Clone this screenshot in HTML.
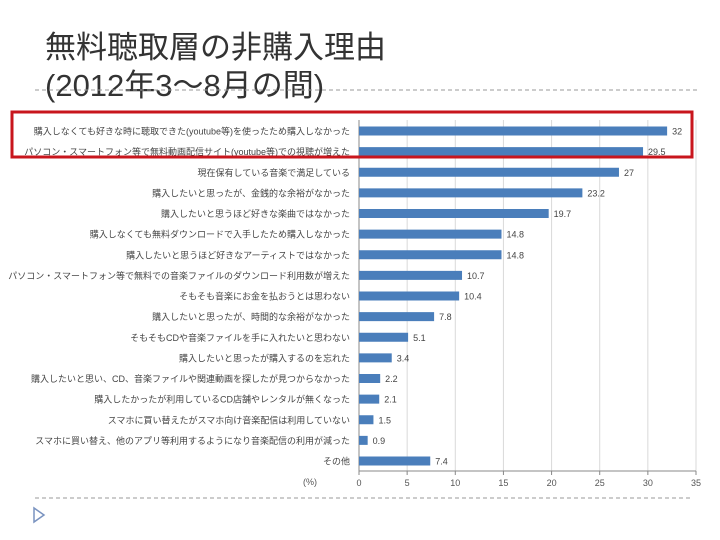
<!DOCTYPE html>
<html><head><meta charset="utf-8">
<style>
body{margin:0;background:#fff;width:720px;height:540px;overflow:hidden;font-family:"Liberation Sans","Noto Sans CJK JP",sans-serif;}
.t{position:absolute;left:45px;color:#333;font-size:31px;line-height:38px;white-space:nowrap;}
</style></head><body>
<div class="t" style="top:29px">無料聴取層の非購入理由</div>
<div class="t" style="top:67px">(2012年3～8月の間)</div>
<svg width="720" height="540" style="position:absolute;left:0;top:0" id="c">
<line x1="35" y1="90" x2="698" y2="90" stroke="#999" stroke-dasharray="4,3" stroke-width="1"/>
<line x1="35" y1="498" x2="690" y2="498" stroke="#999" stroke-dasharray="4,3" stroke-width="1"/>
<polygon points="34,508 34,522 44,515" fill="none" stroke="#7a93c0" stroke-width="1.5"/>
<g id="g"></g>
<rect x="12" y="112" width="680" height="45" fill="none" stroke="#c8161d" stroke-width="3"/>
</svg>
<script>
const categories=["購入しなくても好きな時に聴取できた(youtube等)を使ったため購入しなかった","パソコン・スマートフォン等で無料動画配信サイト(youtube等)での視聴が増えた","現在保有している音楽で満足している","購入したいと思ったが、金銭的な余裕がなかった","購入したいと思うほど好きな楽曲ではなかった","購入しなくても無料ダウンロードで入手したため購入しなかった","購入したいと思うほど好きなアーティストではなかった","パソコン・スマートフォン等で無料での音楽ファイルのダウンロード利用数が増えた","そもそも音楽にお金を払おうとは思わない","購入したいと思ったが、時間的な余裕がなかった","そもそもCDや音楽ファイルを手に入れたいと思わない","購入したいと思ったが購入するのを忘れた","購入したいと思い、CD、音楽ファイルや関連動画を探したが見つからなかった","購入したかったが利用しているCD店舗やレンタルが無くなった","スマホに買い替えたがスマホ向け音楽配信は利用していない","スマホに買い替え、他のアプリ等利用するようになり音楽配信の利用が減った","その他"];
const values=[32,29.5,27,23.2,19.7,14.8,14.8,10.7,10.4,7.8,5.1,3.4,2.2,2.1,1.5,0.9,7.4];
const valueLabels=["32","29.5","27","23.2","19.7","14.8","14.8","10.7","10.4","7.8","5.1","3.4","2.2","2.1","1.5","0.9","7.4"];
const ticks=[0,5,10,15,20,25,30,35];
const ns="http://www.w3.org/2000/svg",g=document.getElementById('g');
const x0=359,sc=(696-359)/35,y0=131,step=(461-131)/(categories.length-1);
const X=v=>x0+v*sc, Y=i=>y0+i*step;
function mk(t,a){const e=document.createElementNS(ns,t);for(const k in a)e.setAttribute(k,a[k]);g.appendChild(e);return e;}
ticks.forEach(t=>{
 if(t>0){const l=mk('line',{x1:X(t),x2:X(t),y1:120,y2:471,stroke:'#d9d9d9'});
 
 }
 const tk=mk('line',{x1:X(t),x2:X(t),y1:471,y2:475,stroke:'#888'});
 
 
 const tx=mk('text',{x:X(t),y:486,'font-size':9,fill:'#555','text-anchor':'middle'});tx.textContent=t;
 
 
});
const ax=mk('line',{x1:x0,x2:X(35),y1:471,y2:471,stroke:'#888'});


const ay=mk('line',{x1:x0,x2:x0,y1:120,y2:471,stroke:'#888'});


const u=mk('text',{x:310,y:485,'font-size':9,fill:'#555','text-anchor':'middle'});u.textContent='(%)';


categories.forEach((c,i)=>{
 const y=Y(i);
 const b=mk('rect',{x:x0,y:y-4.5,width:X(values[i])-x0,height:9,fill:'#4a7ebb'});
 
 
 const l=mk('text',{x:350,y:y+3.5,'font-size':9,fill:'#444','text-anchor':'end'});l.textContent=c;
 
 
 const w=l.getComputedTextLength();
 if(w>342){l.setAttribute('textLength',342);l.setAttribute('lengthAdjust','spacingAndGlyphs');}
 const v=mk('text',{x:X(values[i])+5,y:y+3.5,'font-size':9,fill:'#444'});v.textContent=valueLabels[i];
 
 
});
</script>
</body></html>
